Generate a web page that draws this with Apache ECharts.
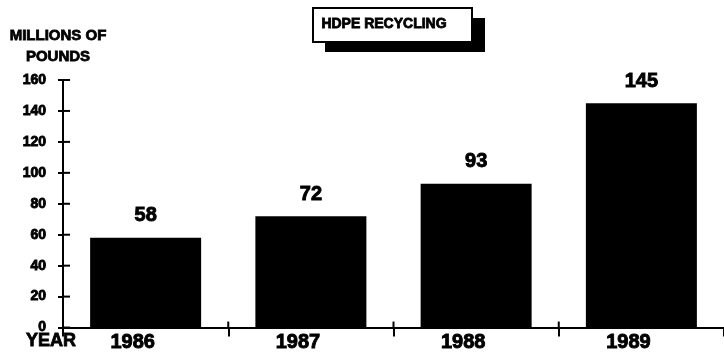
<!DOCTYPE html>
<html>
<head>
<meta charset="utf-8">
<script src="https://cdn.jsdelivr.net/npm/echarts@6/dist/echarts.min.js"></script>
<style>
  html, body { margin: 0; padding: 0; background: #fff; }
  #chart { width: 724px; height: 353px; }
</style>
</head>
<body>
<div id="chart"></div>
<script>
// HDPE recycling volume by year, millions of pounds
const years = ['1986', '1987', '1988', '1989'];
const pounds = [58, 72, 93, 145];
const yTicks = [0, 20, 40, 60, 80, 100, 120, 140, 160];

const FONT = '"Liberation Sans", Arial, sans-serif';
const heavy = { fontFamily: FONT, fontWeight: 'bold', color: '#000', textBorderColor: '#000', textBorderWidth: 0.9 };

const chart = echarts.init(document.getElementById('chart'), null, { renderer: 'canvas' });

function caption(text, x, y, size) {
  return { type: 'text', x: x, y: y, z: 12,
    style: { text: text, fontSize: size, fontFamily: FONT, fontWeight: 'bold', align: 'center', verticalAlign: 'middle', fill: '#000', stroke: '#000', lineWidth: 0.8 } };
}

const captions = [
  // title box with drop shadow
  { type: 'rect', shape: { x: 325, y: 18, width: 160, height: 34 }, style: { fill: '#000' }, z: 10 },
  { type: 'rect', shape: { x: 313, y: 8, width: 159, height: 34 }, style: { fill: '#fff', stroke: '#000', lineWidth: 2 }, z: 11 },
  caption('HDPE RECYCLING', 384, 24, 14),
  // y-axis caption
  caption('MILLIONS OF', 58, 36, 15),
  caption('POUNDS', 58, 57, 15),
  // x-axis caption
  caption('YEAR', 51, 341, 18)
];

chart.setOption({
  animation: false,
  backgroundColor: '#fff',
  grid: { left: 63, top: 80, width: 668, height: 248 },
  xAxis: {
    type: 'category', data: years, position: 'bottom',
    axisLine: { show: true, lineStyle: { color: '#000', width: 2 } },
    axisTick: { show: true, length: 9, lineStyle: { color: '#000', width: 2 } },
    axisLabel: Object.assign({ fontSize: 20, margin: 5, padding: [0, 26, 0, 0] }, heavy),
    splitLine: { show: false }
  },
  yAxis: {
    type: 'value', min: yTicks[0], max: yTicks[yTicks.length - 1], interval: 20, position: 'left',
    axisLine: { show: true, lineStyle: { color: '#000', width: 2 } },
    axisTick: { show: true, length: 5, lineStyle: { color: '#000', width: 2 } },
    axisLabel: Object.assign({ fontSize: 14, margin: 17, padding: [0, 0, 4, 0] }, heavy),
    splitLine: { show: false }
  },
  series: [{
    type: 'bar',
    data: pounds,
    barWidth: 111,
    itemStyle: { color: '#000' },
    label: Object.assign({ show: true, position: 'top', distance: 12, fontSize: 20 }, heavy)
  }],
  graphic: captions
});

// Ticks cross the axis lines: add the inner half of each tick,
// placed through the chart's own axis scales.
const tickStyle = { stroke: '#000', lineWidth: 2 };
const inner = [];
const c0 = chart.convertToPixel({ xAxisIndex: 0 }, years[0]);
const c1 = chart.convertToPixel({ xAxisIndex: 0 }, years[1]);
const axisX = c0 - (c1 - c0) / 2;
const baseY = chart.convertToPixel({ yAxisIndex: 0 }, yTicks[0]);
yTicks.forEach(function (v) {
  const py = chart.convertToPixel({ yAxisIndex: 0 }, v);
  inner.push({ type: 'line', shape: { x1: axisX, y1: py, x2: axisX + 7, y2: py }, style: tickStyle, z: 5 });
});
for (let i = 1; i < years.length; i++) {
  const a = chart.convertToPixel({ xAxisIndex: 0 }, years[i - 1]);
  const b = chart.convertToPixel({ xAxisIndex: 0 }, years[i]);
  const px = (a + b) / 2;
  inner.push({ type: 'line', shape: { x1: px, y1: baseY, x2: px, y2: baseY - 6 }, style: tickStyle, z: 5 });
}
chart.setOption({ graphic: captions.concat(inner) });
</script>
</body>
</html>
